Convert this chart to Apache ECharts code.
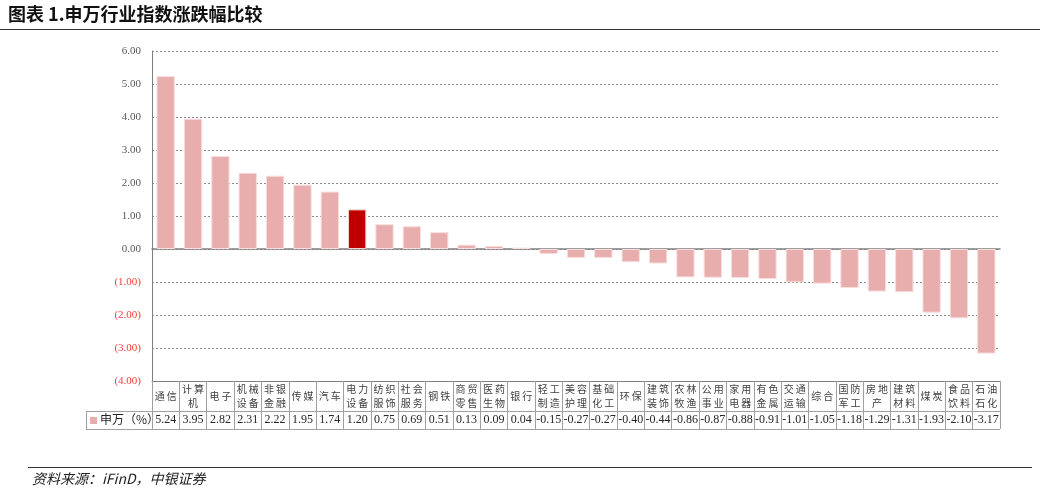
<!DOCTYPE html>
<html><head><meta charset="utf-8">
<script src="https://cdn.jsdelivr.net/npm/echarts@6/dist/echarts.min.js"></script>
<style>html,body{margin:0;padding:0;background:#fff}#c{width:1044px;height:494px}</style>
</head><body><div id="c"></div>
<script>
const categories = ['通信','计算机','电子','机械设备','非银金融','传媒','汽车','电力设备','纺织服饰','社会服务','钢铁','商贸零售','医药生物','银行','轻工制造','美容护理','基础化工','环保','建筑装饰','农林牧渔','公用事业','家用电器','有色金属','交通运输','综合','国防军工','房地产','建筑材料','煤炭','食品饮料','石油石化'];
const values = [5.24,3.95,2.82,2.31,2.22,1.95,1.74,1.20,0.75,0.69,0.51,0.13,0.09,0.04,-0.15,-0.27,-0.27,-0.40,-0.44,-0.86,-0.87,-0.88,-0.91,-1.01,-1.05,-1.18,-1.29,-1.31,-1.93,-2.10,-3.17];
const highlight = '电力设备';
const seriesName = '申万（%）';
const titleText = '图表 1.申万行业指数涨跌幅比较';
const sourceText = '资料来源：iFinD，中银证券';

const G = {left:152, right:44, top:51, bottom:113};
const gridBottomY = 494 - G.bottom; // 381
const rowH1 = 30, rowH2 = 18;
const plotRight = 1044 - G.right;
const serif = '"Liberation Serif","DejaVu Serif",serif';
const cjk = '"Noto Sans CJK SC",sans-serif';
const fmtCat = s => {
  const parts = [];
  if (s.length <= 2) parts.push(s);
  else { parts.push(s.slice(0,2)); parts.push(s.slice(2)); }
  return parts.map(p => p.split('').join('\u2009')).join('\n');
};
const chart = echarts.init(document.getElementById('c'));
chart.setOption({
  animation:false,
  grid:{left:G.left,right:G.right,top:G.top,bottom:G.bottom,containLabel:false},
  yAxis:{type:'value',min:-4,max:6,interval:1,
    axisLine:{show:true,lineStyle:{color:'#808080',width:1}},
    axisTick:{show:false},
    splitLine:{show:true,lineStyle:{color:'#8c8c8c',type:[2,2],width:1}},
    axisLabel:{margin:11,fontFamily:serif,fontSize:11,
      formatter:v=> v<0 ? '{n|('+(-v).toFixed(2)+')}' : '{p|'+v.toFixed(2)+'}',
      rich:{p:{color:'#595959',fontFamily:serif,fontSize:11},n:{color:'#ff3b3b',fontFamily:serif,fontSize:11}}}
  },
  xAxis:[
    {type:'category',data:categories,position:'top',
      axisLine:{show:true,onZero:true,lineStyle:{color:'#808080',width:1.5}},
      axisTick:{show:false},axisLabel:{show:false},splitLine:{show:false}},
    {type:'category',data:categories,position:'bottom',
      axisLine:{show:true,onZero:false,lineStyle:{color:'#808080',width:1}},
      axisTick:{show:true,length:rowH1+rowH2,lineStyle:{color:'#a0a0a0'}},
      axisLabel:{show:true,interval:0,margin:15,verticalAlign:'middle',lineHeight:14,
        fontFamily:cjk,fontSize:10,color:'#404040',formatter:fmtCat},
      splitLine:{show:false}},
    {type:'category',data:values.map(v=>v.toFixed(2)),position:'bottom',offset:rowH1,
      axisLine:{show:false,onZero:false},axisTick:{show:false},
      axisLabel:{show:true,interval:0,margin:9,verticalAlign:'middle',
        fontFamily:serif,fontSize:12,color:'#262626'},
      splitLine:{show:false}}
  ],
  series:[{type:'bar',name:seriesName,xAxisIndex:0,barWidth:'67%',
    data:values.map((v,i)=>({value:v,itemStyle:categories[i]===highlight?{color:'#c00000',borderColor:'#f3cfcf',borderWidth:1}:undefined})),
    itemStyle:{color:'#e8adad',borderColor:'#f8dede',borderWidth:1}
  }],
  graphic:[
    {type:'text',left:8,top:5,style:{text:titleText,font:'bold 18px '+cjk,fill:'#111'}},
    {type:'line',shape:{x1:0,y1:29.5,x2:1040,y2:29.5},style:{stroke:'#333',lineWidth:1.2}},
    {type:'line',shape:{x1:86,y1:gridBottomY+rowH1+0.5,x2:plotRight,y2:gridBottomY+rowH1+0.5},style:{stroke:'#a0a0a0',lineWidth:1}},
    {type:'line',shape:{x1:86,y1:gridBottomY+rowH1+rowH2+0.5,x2:plotRight,y2:gridBottomY+rowH1+rowH2+0.5},style:{stroke:'#a0a0a0',lineWidth:1}},
    {type:'line',shape:{x1:86.5,y1:gridBottomY+rowH1,x2:86.5,y2:gridBottomY+rowH1+rowH2},style:{stroke:'#a0a0a0',lineWidth:1}},
    {type:'rect',shape:{x:90,y:gridBottomY+rowH1+6,width:7,height:7},style:{fill:'#e8adad'}},
    {type:'text',left:100,top:gridBottomY+rowH1+2,style:{text:seriesName,font:'12px '+cjk,fill:'#262626'}},
    {type:'line',shape:{x1:28,y1:467.5,x2:1032,y2:467.5},style:{stroke:'#333',lineWidth:1.2}},
    {type:'text',left:32,top:472,style:{text:sourceText,font:'italic 14px '+cjk,fill:'#222'}}
  ]
});
</script></body></html>
